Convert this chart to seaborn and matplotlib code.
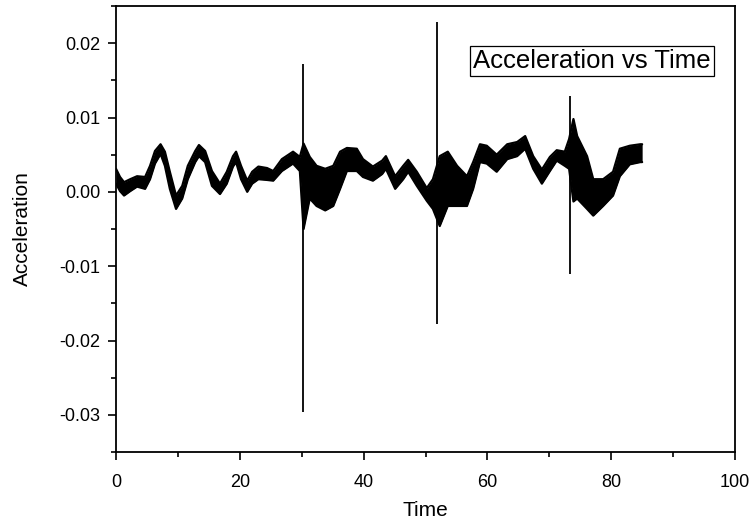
import matplotlib
matplotlib.use("Agg")
import numpy as np
import pandas as pd
import seaborn as sns
import matplotlib.pyplot as plt
from matplotlib.ticker import MultipleLocator, FuncFormatter

# Envelope of the (dense) acceleration signal
time = [0.0, 0.65, 1.3, 2.3, 3.4, 4.7, 5.5, 6.3, 7.2, 7.9, 8.7, 9.7, 10.7, 11.6,
        12.8, 13.4, 14.4, 15.5, 16.8, 17.9, 18.9, 19.4, 20.2, 21.2, 22.0, 23.0,
        24.4, 25.4, 26.8, 28.6, 29.7, 30.3, 31.3, 32.4, 33.8, 35.1, 36.2, 37.3,
        38.9, 39.9, 41.5, 43.0, 43.6, 45.1, 46.4, 47.2, 48.6, 50.2, 51.2, 52.3,
        53.6, 55.1, 56.7, 57.7, 58.8, 59.9, 61.5, 63.2, 64.8, 66.1, 67.4, 68.8,
        70.1, 71.2, 72.5, 73.2, 73.9, 74.5, 76.1, 77.1, 78.7, 80.3, 81.4, 83.0,
        84.7, 85.0]
upper = [0.0031, 0.0020, 0.0013, 0.0017, 0.0021, 0.0020, 0.0035, 0.0055, 0.0064,
         0.0054, 0.0027, -0.0005, 0.0008, 0.0035, 0.0055, 0.0063, 0.0055, 0.0028,
         0.0011, 0.0027, 0.0048, 0.0054, 0.0035, 0.0015, 0.0027, 0.0034, 0.0032,
         0.0028, 0.0044, 0.0054, 0.0047, 0.0065, 0.0047, 0.0035, 0.0031, 0.0035,
         0.0054, 0.0059, 0.0058, 0.0044, 0.0034, 0.0042, 0.0048, 0.0021, 0.0035,
         0.0043, 0.0027, 0.0005, 0.0017, 0.0048, 0.0054, 0.0035, 0.0021, 0.0040,
         0.0064, 0.0062, 0.0050, 0.0064, 0.0067, 0.0075, 0.0048, 0.0030, 0.0047,
         0.0056, 0.0054, 0.0071, 0.0098, 0.0075, 0.0048, 0.0017, 0.0017, 0.0027,
         0.0058, 0.0062, 0.0064, 0.0064]
lower = [0.0011, 0.0001, -0.0005, 0.0001, 0.0007, 0.0004, 0.0017, 0.0038, 0.0051,
         0.0035, 0.0004, -0.0023, -0.0009, 0.0017, 0.0040, 0.0048, 0.0040, 0.0008,
         -0.0003, 0.0011, 0.0034, 0.0040, 0.0017, 0.0000, 0.0011, 0.0017, 0.0016,
         0.0015, 0.0028, 0.0038, 0.0028, -0.0050, -0.0009, -0.0019, -0.0025, -0.0019,
         0.0004, 0.0028, 0.0028, 0.0020, 0.0015, 0.0024, 0.0031, 0.0004, 0.0017,
         0.0027, 0.0008, -0.0012, -0.0023, -0.0046, -0.0019, -0.0019, -0.0019, 0.0004,
         0.0040, 0.0038, 0.0027, 0.0044, 0.0048, 0.0058, 0.0031, 0.0011, 0.0028,
         0.0042, 0.0035, 0.0031, -0.0013, -0.0009, -0.0023, -0.0032, -0.0019, -0.0005,
         0.0021, 0.0037, 0.0040, 0.0040]

# Impulse spikes
spike_time = [30.15, 51.9, 73.4]
spike_top = [0.0172, 0.0229, 0.0129]
spike_bottom = [-0.0296, -0.0178, -0.0110]

legend_text = "Acceleration vs Time"

sns.set_theme(style="white")
plt.rcParams["font.family"] = ["Liberation Sans", "DejaVu Sans"]
plt.rcParams["axes.unicode_minus"] = False

fig = plt.figure(figsize=(7.55, 5.24), dpi=100)
ax = fig.add_axes([116 / 755, 72 / 524, 619 / 755, 446 / 524])

df = pd.DataFrame({"Time": time, "upper": upper, "lower": lower})
long = df.melt(id_vars="Time", value_vars=["upper", "lower"],
               var_name="edge", value_name="Acceleration")
sns.lineplot(data=long, x="Time", y="Acceleration", units="edge",
             estimator=None, color="black", lw=1.6, ax=ax, legend=False,
             solid_joinstyle="round")
ax.fill_between(df["Time"], df["lower"], df["upper"], color="black", lw=0)
ax.vlines(spike_time, spike_bottom, spike_top, color="black", lw=1.3)

ax.set_xlim(0, 100)
ax.set_ylim(-0.035, 0.025)
ax.xaxis.set_major_locator(MultipleLocator(20))
ax.xaxis.set_minor_locator(MultipleLocator(10))
ax.yaxis.set_major_locator(MultipleLocator(0.01))
ax.yaxis.set_minor_locator(MultipleLocator(0.005))
ax.yaxis.set_major_formatter(FuncFormatter(lambda v, p: f"{v:.2f}"))
ax.tick_params(which="major", direction="out", length=6, width=1.2,
               labelsize=13, color="black", labelcolor="black",
               bottom=True, left=True, top=False, right=False)
ax.tick_params(axis="x", which="major", pad=10)
ax.tick_params(axis="y", which="major", pad=5)
ax.tick_params(which="minor", direction="out", length=3.5, width=1.2,
               color="black", bottom=True, left=True, top=False, right=False)
for s in ax.spines.values():
    s.set_visible(True)
    s.set_color("black")
    s.set_linewidth(1.3)

ax.set_xlabel("Time", fontsize=15, color="black", labelpad=7)
ax.set_ylabel("Acceleration", fontsize=15, color="black", labelpad=20)

ax.text(0.769, 0.877, legend_text, transform=ax.transAxes, fontsize=18.5,
        ha="center", va="center", color="black",
        bbox=dict(boxstyle="square,pad=0.12", fc="white", ec="black", lw=0.9))

fig.savefig("out.png", dpi=100)
